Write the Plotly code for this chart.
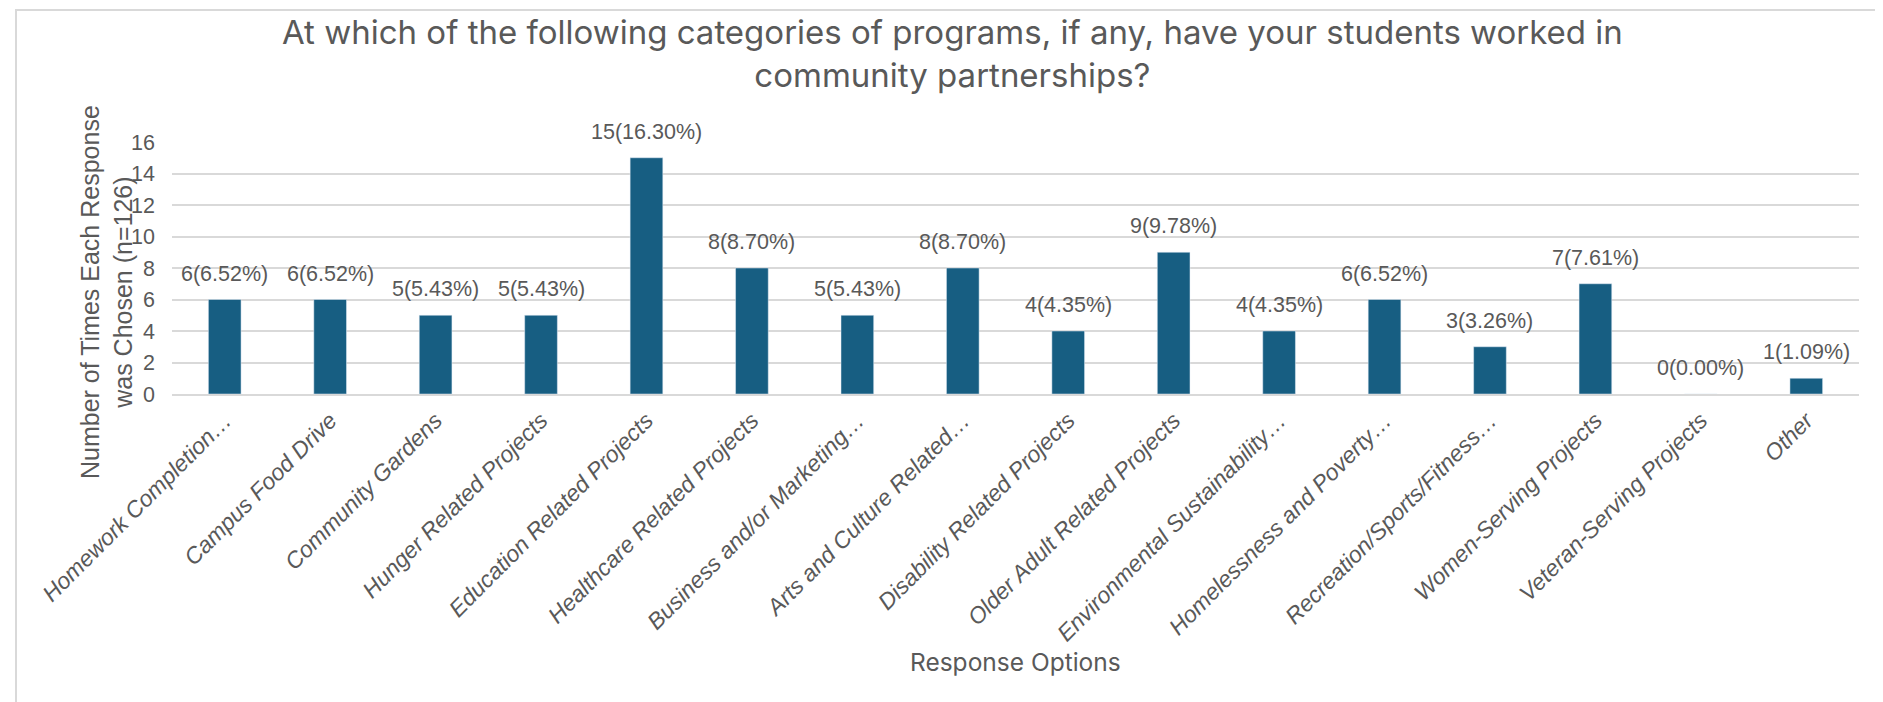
import plotly.graph_objects as go

categories = [
    "Homework Completion…", "Campus Food Drive", "Community Gardens",
    "Hunger Related Projects", "Education Related Projects",
    "Healthcare Related Projects", "Business and/or Marketing…",
    "Arts and Culture Related…", "Disability Related Projects",
    "Older Adult Related Projects", "Environmental Sustainability…",
    "Homelessness and Poverty…", "Recreation/Sports/Fitness…",
    "Women-Serving Projects", "Veteran-Serving Projects", "Other",
]
counts = [6, 6, 5, 5, 15, 8, 5, 8, 4, 9, 4, 6, 3, 7, 0, 1]
percents = ["6.52%", "6.52%", "5.43%", "5.43%", "16.30%", "8.70%", "5.43%",
            "8.70%", "4.35%", "9.78%", "4.35%", "6.52%", "3.26%", "7.61%",
            "0.00%", "1.09%"]
y_ticks = [0, 2, 4, 6, 8, 10, 12, 14, 16]

labels = [f"{c}({p})" for c, p in zip(counts, percents)]

W, H = 1883, 702
L, R, T, B = 164, 32, 134, 316
pw, ph = W - L - R, H - T - B

GRAY = "#595959"
BAR = "#175E82"

fig = go.Figure(go.Bar(
    x=categories, y=counts,
    marker=dict(color=BAR), width=0.31,
    hovertext=labels,
))

def px_x(p):
    return (p - L) / pw

def px_y(p):
    return (H - B - p) / ph

annotations = [
    dict(x=c, y=v, xref="x", yref="y", text=t, showarrow=False,
         xanchor="center", yanchor="bottom", yshift=12,
         font=dict(family="Liberation Sans", size=21.5, color=GRAY))
    for c, v, t in zip(categories, counts, labels)
]
annotations += [
    dict(text="At which of the following categories of programs, if any, have your students worked in<br>community partnerships?",
         xref="paper", yref="paper", x=px_x(944), y=px_y(46),
         showarrow=False, xanchor="center", yanchor="middle",
         font=dict(family="Inter", size=33, color=GRAY)),
    dict(text="Number of Times Each Response<br>was Chosen (n=126)",
         xref="paper", yref="paper", x=px_x(98), y=px_y(284),
         textangle=-90, showarrow=False, xanchor="center", yanchor="middle",
         font=dict(family="Liberation Sans", size=25, color=GRAY)),
    dict(text="Response Options", xref="paper", yref="paper",
         x=px_x(1007), y=px_y(654), showarrow=False,
         xanchor="center", yanchor="middle",
         font=dict(family="Inter", size=24.5, color=GRAY)),
]

fig.update_layout(
    width=W, height=H,
    margin=dict(l=L, r=R, t=T, b=B, autoexpand=False),
    paper_bgcolor="white", plot_bgcolor="white",
    showlegend=False,
    xaxis=dict(
        tickangle=-45, automargin=False,
        tickfont=dict(family="Liberation Sans", size=23, color=GRAY, style="italic"),
        showline=True, linecolor="#d9d9d9", linewidth=2,
        ticks="", ticklabelstandoff=2,
    ),
    yaxis=dict(
        range=[0, 16], tickvals=y_ticks, automargin=False,
        tickfont=dict(family="Liberation Sans", size=21.5, color=GRAY),
        gridcolor="#d9d9d9", gridwidth=2, zeroline=False,
        ticks="", ticklabelstandoff=16,
    ),
    annotations=annotations,
    shapes=[dict(type="rect", xref="paper", yref="paper",
                 x0=px_x(8), x1=px_x(1880), y0=px_y(704), y1=px_y(2),
                 line=dict(color="#d9d9d9", width=2), layer="below")],
    bargap=0.69,
)

fig.write_html("out.html")
